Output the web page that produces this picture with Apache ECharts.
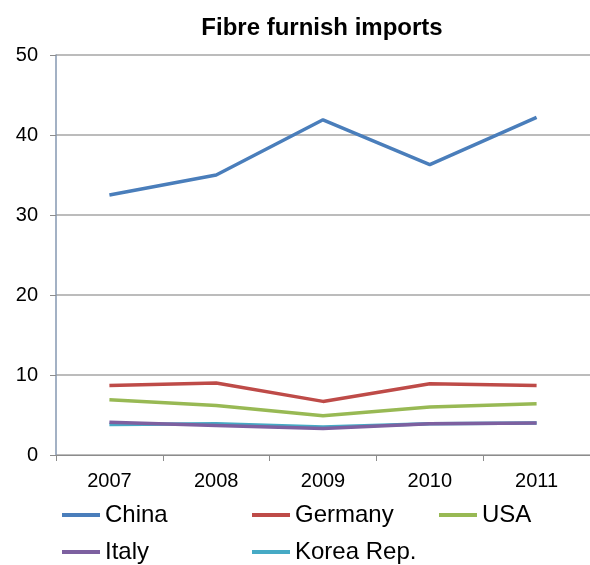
<!DOCTYPE html>
<html>
<head>
<meta charset="utf-8">
<script src="https://cdn.jsdelivr.net/npm/echarts@6/dist/echarts.min.js"></script>
<style>
  html, body { margin: 0; padding: 0; background: #fff; }
  #chart { width: 590px; height: 565px; }
</style>
</head>
<body>
<div id="chart"></div>
<script>
const years = ['2007', '2008', '2009', '2010', '2011']
const china = [32.5, 35.0, 41.9, 36.3, 42.2]
const germany = [8.7, 9.0, 6.7, 8.9, 8.7]
const usa = [6.9, 6.2, 4.9, 6.0, 6.4]
const italy = [4.1, 3.7, 3.3, 3.9, 4.0]
const korea = [3.8, 3.9, 3.5, 3.9, 4.0]

const names = ['China', 'Germany', 'USA', 'Italy', 'Korea Rep.']
const colors = ['#4a7ebb', '#be4b48', '#98b954', '#7d60a0', '#46aac5']
const values = [china, germany, usa, italy, korea]

// legend slots, two rows like the original
const legendPos = [
  { left: 57, top: 498 }, { left: 247, top: 498 }, { left: 434, top: 498 },
  { left: 57, top: 535 }, { left: 247, top: 535 }
]

const font = 'Liberation Sans, Arial, sans-serif'

const chart = echarts.init(document.getElementById('chart'))
chart.setOption({
  animation: false,
  title: {
    text: 'Fibre furnish imports',
    left: 317,
    textAlign: 'center',
    top: 11,
    textStyle: { fontFamily: font, fontSize: 24, fontWeight: 'bold', color: '#000' }
  },
  legend: names.map((n, i) => ({
    data: [n],
    left: legendPos[i].left,
    top: legendPos[i].top,
    itemWidth: 38,
    itemHeight: 4,
    itemGap: 0,
    icon: 'rect',
    textStyle: { fontFamily: font, fontSize: 24, color: '#000' }
  })),
  grid: { left: 56, right: -2, top: 55, bottom: 110 },
  xAxis: {
    type: 'category',
    data: years,
    boundaryGap: true,
    axisLine: { lineStyle: { color: '#8c8c8c', width: 1 } },
    axisTick: { show: true, length: 6, inside: false, lineStyle: { color: '#8c8c8c' } },
    axisLabel: { fontFamily: font, fontSize: 20, color: '#000', margin: 16 }
  },
  yAxis: {
    type: 'value',
    min: 0,
    max: 50,
    interval: 10,
    axisLine: { show: true, lineStyle: { color: '#8497b0', width: 1.5 } },
    axisTick: { show: true, length: 6, lineStyle: { color: '#8c8c8c' } },
    axisLabel: { fontFamily: font, fontSize: 20, color: '#000', margin: 18 },
    splitLine: { lineStyle: { color: '#a6a6a6', width: 1.5 } }
  },
  series: names.map((n, i) => ({
    name: n,
    type: 'line',
    data: values[i],
    symbol: 'none',
    color: colors[i],
    lineStyle: { width: 3.5, color: colors[i] },
    z: 10 - i
  }))
})
</script>
</body>
</html>
